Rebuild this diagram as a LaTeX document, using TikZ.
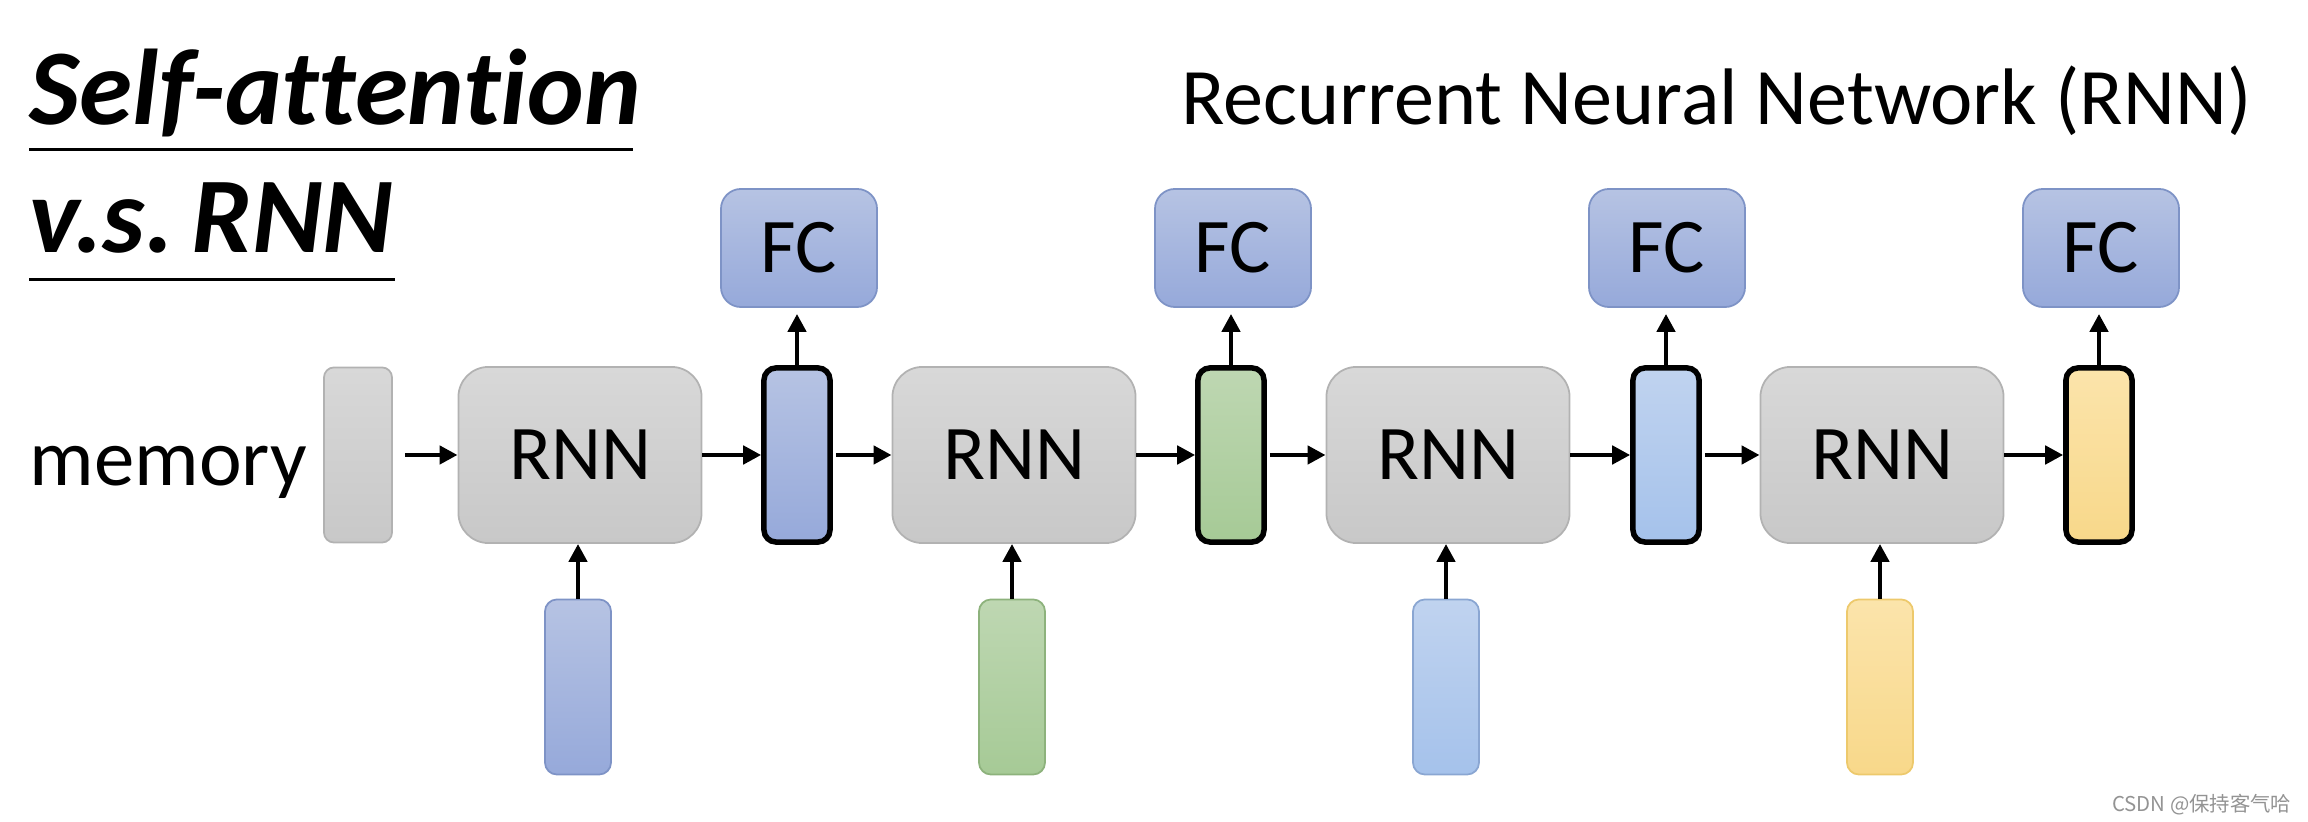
\documentclass[tikz,border=0pt]{standalone}
\usepackage{fontspec}
\setmainfont{Carlito}[Ligatures=NoCommon]
\newfontfamily\cjk{Noto Sans CJK SC}
\usetikzlibrary{arrows.meta}
\definecolor{grayT}{HTML}{D8D8D8}
\definecolor{grayB}{HTML}{C8C8C8}
\definecolor{grayD}{HTML}{B2B2B2}
\definecolor{blueT}{HTML}{B6C3E3}
\definecolor{blueB}{HTML}{96A9DA}
\definecolor{blueD}{HTML}{7E93C6}
\definecolor{greenT}{HTML}{BED7B2}
\definecolor{greenB}{HTML}{A6CA96}
\definecolor{greenD}{HTML}{8DB27C}
\definecolor{lblueT}{HTML}{C0D3EF}
\definecolor{lblueB}{HTML}{A5C2EB}
\definecolor{lblueD}{HTML}{8AA6D2}
\definecolor{yelT}{HTML}{FBE4AB}
\definecolor{yelB}{HTML}{F8D88A}
\definecolor{yelD}{HTML}{EDC96C}
\begin{document}
\begin{tikzpicture}[x=0.01cm,y=-0.01cm,
  arr/.style={line width=0.045cm,-{Triangle[length=0.18cm,width=0.18cm]}},
  rnnbox/.style={draw=grayD,line width=0.5pt,rounded corners=0.3cm,top color=grayT,bottom color=grayB,
    minimum width=2.43cm,minimum height=1.76cm,inner sep=0pt,font=\fontsize{22}{26}\selectfont},
  membox/.style={draw=grayD,line width=0.5pt,rounded corners=0.1cm,top color=grayT,bottom color=grayB,
    minimum width=0.68cm,minimum height=1.75cm,inner sep=0pt},
  fcbox/.style={draw=blueD,line width=0.5pt,rounded corners=0.2cm,top color=blueT,bottom color=blueB,
    minimum width=1.56cm,minimum height=1.18cm,inner sep=0pt,font=\fontsize{22}{26}\selectfont},
  hidbox/.style={draw=black,line width=0.055cm,rounded corners=0.12cm,
    minimum width=0.66cm,minimum height=1.74cm,inner sep=0pt},
  inbox/.style={line width=0.5pt,rounded corners=0.12cm,
    minimum width=0.66cm,minimum height=1.75cm,inner sep=0pt},
  cblue/.style={top color=blueT,bottom color=blueB,draw=blueD},
  cgreen/.style={top color=greenT,bottom color=greenB,draw=greenD},
  clblue/.style={top color=lblueT,bottom color=lblueB,draw=lblueD},
  cyel/.style={top color=yelT,bottom color=yelB,draw=yelD},
]
\useasboundingbox (0,0) rectangle (2308,822);

% titles
\node[anchor=base west,inner sep=0pt,font=\fontsize{30.6}{36}\selectfont\bfseries\itshape] (t1) at (29,125) {Self-attention};
\node[anchor=base west,inner sep=0pt,font=\fontsize{30.6}{36}\selectfont\bfseries\itshape] (t2) at (29,253) {v.s.\,RNN};
\draw[line width=0.03cm] (29,150) -- (633,150);
\draw[line width=0.03cm] (29,280) -- (395,280);
\node[anchor=base west,inner sep=0pt,font=\fontsize{22.8}{27}\selectfont] (rt) at (1181,125) {Recurrent Neural Network (RNN)};

% memory
\node[anchor=base west,inner sep=0pt,font=\fontsize{23}{27}\selectfont] (memtxt) at (29,486) {memory};
\node[membox] (mem) at (358,455) {};

% RNN boxes
\foreach \i in {0,1,2,3}{
  \node[rnnbox] (r\i) at (580+434*\i,455) {RNN};
}
% hidden boxes
\node[hidbox,cblue,draw=black] (h0) at (797,455) {};
\node[hidbox,cgreen,draw=black] (h1) at (1231,455) {};
\node[hidbox,clblue,draw=black] (h2) at (1666,455) {};
\node[hidbox,cyel,draw=black] (h3) at (2099,455) {};
% FC boxes
\foreach \i in {0,1,2,3}{
  \node[fcbox] (f\i) at (799+434*\i,248) {FC};
}
% input boxes
\foreach \i/\c in {0/cblue,1/cgreen,2/clblue,3/cyel}{
  \node[inbox,\c] (x\i) at (578+434*\i,687) {};
}

% arrows
\draw[arr,shorten <=0.12cm] (mem.east) -- (r0.west);
\foreach \i in {0,1,2,3}{
  \draw[arr] (r\i.east) -- (h\i.west);
  \draw[arr,shorten >=0.06cm] (h\i.north) -- (h\i.north |- f\i.south);
  \draw[arr] (x\i.north) -- (x\i.north |- r\i.south);
}
\foreach \i/\j in {0/1,1/2,2/3}{
  \draw[arr,shorten <=0.03cm] (h\i.east) -- (r\j.west);
}

% watermark
\node[anchor=east,inner sep=0pt,text=gray!85,font=\cjk\fontsize{5.8}{7}\selectfont] (wm) at (2292,805) {CSDN @保持客气哈};
\end{tikzpicture}
\end{document}
